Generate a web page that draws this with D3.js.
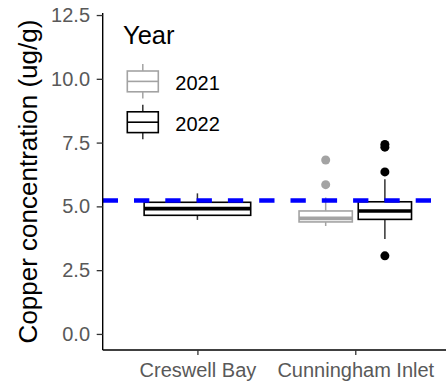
<!DOCTYPE html>
<html>
<head>
<meta charset="utf-8">
<script src="https://cdn.jsdelivr.net/npm/d3@7"></script>
<style>
  body { margin: 0; background: #fff; }
  svg { display: block; font-family: "Liberation Sans", Arial, sans-serif; }
</style>
</head>
<body>
<div id="chart"></div>
<script>
var width = 446, height = 385;
var margin = ({top: 13, right: 0, bottom: 35, left: 102.7});

// data
var sites = ["Creswell Bay", "Cunningham Inlet"];
var years = ["2021", "2022"];
var yearColor = {"2021": "#a3a3a3", "2022": "#000000"};
var boxSite = ["Creswell Bay", "Cunningham Inlet", "Cunningham Inlet"];
var boxYear = ["2022", "2021", "2022"];
var lowWhisker = [4.47, 4.23, 3.72];
var q1 = [4.65, 4.39, 4.49];
var median = [4.91, 4.53, 4.82];
var q3 = [5.16, 4.82, 5.18];
var highWhisker = [5.51, 5.35, 6.06];
var outliers = [[], [5.85, 6.82], [3.06, 6.35, 7.32, 7.43]];
var guideline = 5.23;
var yTicks = [0, 2.5, 5, 7.5, 10, 12.5];

var svg = d3.select("#chart").append("svg")
  .attr("width", width)
  .attr("height", height);

var y = d3.scaleLinear()
  .domain([-0.63, 12.58])
  .range([height - margin.bottom, margin.top]);

var x = d3.scalePoint()
  .domain(sites)
  .range([margin.left, 450])
  .padding(0.6);

var groupWidth = x.step() * 0.75;

// boxes
var boxes = boxSite.map(function(s, i){
  return {site: s, year: boxYear[i], lo: lowWhisker[i], q1: q1[i], med: median[i], q3: q3[i], hi: highWhisker[i], out: outliers[i]};
});

boxes.forEach(function(d){
  var present = boxes.filter(function(b){ return b.site == d.site; }).map(function(b){ return b.year; });
  var inner = d3.scaleBand()
    .domain(present)
    .range([x(d.site) - groupWidth/2, x(d.site) + groupWidth/2]);
  var bw = inner.bandwidth() * 0.9;
  var cx = inner(d.year) + inner.bandwidth()/2;
  var col = yearColor[d.year];
  var g = svg.append("g");

  g.append("line")
    .attr("x1", cx).attr("x2", cx)
    .attr("y1", y(d.q3)).attr("y2", y(d.hi))
    .attr("stroke", d.year == "2022" ? "#333" : col).attr("stroke-width", 1.5);
  g.append("line")
    .attr("x1", cx).attr("x2", cx)
    .attr("y1", y(d.q1)).attr("y2", y(d.lo))
    .attr("stroke", d.year == "2022" ? "#333" : col).attr("stroke-width", 1.5);
  g.append("rect")
    .attr("x", cx - bw/2)
    .attr("y", y(d.q3))
    .attr("width", bw)
    .attr("height", y(d.q1) - y(d.q3))
    .attr("fill", "#fff")
    .attr("stroke", col)
    .attr("stroke-width", 1.6);
  g.append("line")
    .attr("x1", cx - bw/2).attr("x2", cx + bw/2)
    .attr("y1", y(d.med)).attr("y2", y(d.med))
    .attr("stroke", col).attr("stroke-width", 3.6);
  g.selectAll("circle")
    .data(d.out)
    .join("circle")
      .attr("cx", cx)
      .attr("cy", function(v){ return y(v); })
      .attr("r", 4.5)
      .attr("fill", col);
});

// reference line
svg.append("line")
  .attr("x1", margin.left).attr("x2", width)
  .attr("y1", y(guideline)).attr("y2", y(guideline))
  .attr("stroke", "#0000ff")
  .attr("stroke-width", 4.3)
  .attr("stroke-dasharray", "15.3,16");

// axes
var yAxis = svg.append("g")
  .attr("transform", `translate(${margin.left},0)`)
  .call(d3.axisLeft(y).tickValues(yTicks).tickFormat(d3.format(".1f")).tickSize(6).tickSizeOuter(0).tickPadding(6.7));

var xAxis = svg.append("g")
  .attr("transform", `translate(0,${height - margin.bottom})`)
  .call(d3.axisBottom(x).tickSize(5).tickSizeOuter(0).tickPadding(7.8));

[yAxis, xAxis].forEach(function(a){
  a.select(".domain").attr("stroke", "#000").attr("stroke-width", 1.4);
  a.selectAll(".tick line").attr("stroke", "#333").attr("stroke-width", 1.3);
  a.selectAll(".tick text")
    .attr("fill", "#595959")
    .attr("font-size", 20)
    .attr("font-family", "Liberation Sans, Arial, sans-serif");
});
xAxis.select(".domain").attr("d", `M${margin.left},0H${width}`);
yAxis.select(".domain").attr("d", `M0,${margin.top}V${height - margin.bottom}`);

svg.append("text")
  .attr("transform", "translate(36.5,181.5) rotate(-90)")
  .attr("text-anchor", "middle")
  .attr("font-size", 26)
  .attr("fill", "#000")
  .text("Copper concentration (ug/g)");

// legend
var legend = svg.append("g");
legend.append("text")
  .attr("x", 123)
  .attr("y", 43.5)
  .attr("font-size", 25.5)
  .attr("fill", "#000")
  .text("Year");

var keys = legend.selectAll(".key")
  .data(years)
  .join("g")
    .attr("class", "key")
    .attr("transform", function(d, i){ return `translate(142.8,${81.4 + i*40.8})`; });

keys.append("line")
  .attr("y1", -17.5).attr("y2", 17)
  .attr("stroke", function(d){ return d == "2022" ? "#333" : yearColor[d]; })
  .attr("stroke-width", 1.5);
keys.append("rect")
  .attr("x", -15.5).attr("y", -10.4)
  .attr("width", 31).attr("height", 20.8)
  .attr("fill", "#fff")
  .attr("stroke", function(d){ return yearColor[d]; })
  .attr("stroke-width", 1.6);
keys.append("line")
  .attr("x1", -15.5).attr("x2", 15.5)
  .attr("stroke", function(d){ return yearColor[d]; })
  .attr("stroke-width", 1.6);
keys.append("text")
  .attr("x", 32.5)
  .attr("y", 8.5)
  .attr("font-size", 20)
  .attr("fill", "#000")
  .text(function(d){ return d; });
</script>
</body>
</html>
